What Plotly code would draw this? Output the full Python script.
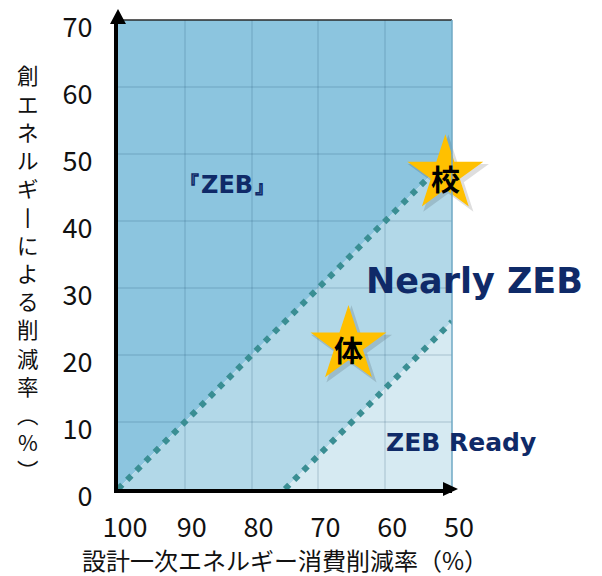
import plotly.graph_objects as go

# ---- data ----
x_ticks = [100, 90, 80, 70, 60, 50]
y_ticks = [0, 10, 20, 30, 40, 50, 60, 70]
x_range = [100, 50]
y_range = [0, 70]

zeb_line_x = [100, 50]      # boundary of 『ZEB』
zeb_line_y = [0, 50]
ready_line_x = [75, 50]     # boundary of ZEB Ready
ready_line_y = [0, 25]

star_x = [51, 65.5]
star_y = [47, 21.5]
star_labels = ["校", "体"]

region_labels = ["『ZEB』", "Nearly ZEB", "ZEB Ready"]
region_label_x = [83.7, 46.6, 48.6]
region_label_y = [45.4, 31.1, 6.9]
region_label_size = [24, 35, 25]

x_title = "設計一次エネルギー消費削減率（%）"
y_title_chars = ["創", "エ", "ネ", "ル", "ギ", "丨", "に", "よ", "る", "削", "減", "率", "︵", "%", "︶"]

# ---- colours ----
dark_fill = "#8CC5DF"
mid_fill = "#B2D8E8"
light_fill = "#D6EAF2"
dot_color = "#3A8E93"
navy = "#0F2A68"
star_color = "#FFC000"

# ---- geometry (figure pixels; page body adds an 8px offset) ----
OFF = 8
W, H = 602 - OFF, 576 - OFF
plot_left, plot_w = 118 - OFF, 334
plot_top, plot_h = 20 - OFF, 469

def xpaper(v):
    return (x_range[0] - v) / (x_range[0] - x_range[1])

def ypaper(v):
    return (v - y_range[0]) / (y_range[1] - y_range[0])

def px_to_paper_x(px):
    return (px - OFF - plot_left) / plot_w

def py_to_paper_y(py):
    return (plot_top + plot_h - (py - OFF)) / plot_h

fig = go.Figure()

xa, xb = x_range
ya, yb = y_range
def path(pts):
    return "M " + " L ".join(f"{px},{py}" for px, py in pts) + " Z"

dark_pts = [(zeb_line_x[0], zeb_line_y[0]), (zeb_line_x[1], zeb_line_y[1]), (xb, yb), (xa, yb)]
mid_pts = [(zeb_line_x[0], zeb_line_y[0]), (ready_line_x[0], ready_line_y[0]),
           (ready_line_x[1], ready_line_y[1]), (zeb_line_x[1], zeb_line_y[1])]
light_pts = [(ready_line_x[0], ready_line_y[0]), (xb, ya), (ready_line_x[1], ready_line_y[1])]

shapes = []
for pts, col in [(dark_pts, dark_fill), (mid_pts, mid_fill), (light_pts, light_fill)]:
    shapes.append(dict(type="path", path=path(pts), xref="x", yref="y",
                       fillcolor=col, line=dict(width=0), layer="below"))

# top and right borders
shapes.append(dict(type="line", xref="paper", yref="paper", x0=0, x1=1, y0=1, y1=1,
                   line=dict(color="#2a2a2a", width=1.5), layer="above"))
shapes.append(dict(type="line", xref="paper", yref="paper", x0=1, x1=1, y0=0, y1=1,
                   line=dict(color="#6FA8C4", width=1.5), layer="above"))

# arrowheads (paper-referenced so they are not clipped)
shapes.append(dict(type="path", xref="paper", yref="paper", xsizemode="pixel", ysizemode="pixel",
                   xanchor=0, yanchor=1, path="M -8,-4 L 8,-4 L 0,11 Z",
                   fillcolor="black", line=dict(width=0), layer="above"))
shapes.append(dict(type="path", xref="paper", yref="paper", xsizemode="pixel", ysizemode="pixel",
                   xanchor=1, yanchor=0, path="M -9,7 L -9,-7 L 6,0 Z",
                   fillcolor="black", line=dict(width=0), layer="above"))

# dotted boundary lines
for lx, ly in [(zeb_line_x, zeb_line_y), (ready_line_x, ready_line_y)]:
    fig.add_trace(go.Scatter(x=lx, y=ly, mode="lines",
                             line=dict(color=dot_color, width=6, dash="6px,7px"),
                             hoverinfo="skip", showlegend=False, cliponaxis=False))

# star shadows
fig.add_trace(go.Scatter(x=[v - 0.45 for v in star_x], y=[v - 0.45 for v in star_y], mode="markers",
                         marker=dict(symbol="star", size=61, color="rgba(0,0,0,0.13)", line=dict(width=0)),
                         hoverinfo="skip", showlegend=False, cliponaxis=False))
# stars
fig.add_trace(go.Scatter(x=star_x, y=star_y, mode="markers",
                         marker=dict(symbol="star", size=57, color=star_color, line=dict(width=0)),
                         hoverinfo="skip", showlegend=False, cliponaxis=False))

annotations = []
for sx, sy, s in zip(star_x, star_y, star_labels):
    annotations.append(dict(x=xpaper(sx), y=ypaper(sy), xref="paper", yref="paper",
                            xanchor="center", yanchor="middle",
                            text=f"<b>{s}</b>", showarrow=False, yshift=-4,
                            font=dict(family="Noto Sans CJK JP", size=29, color="black")))

for t, lx, ly, sz in zip(region_labels, region_label_x, region_label_y, region_label_size):
    annotations.append(dict(x=xpaper(lx), y=ypaper(ly), xref="paper", yref="paper",
                            xanchor="center", yanchor="middle",
                            text=f"<b>{t}</b>", showarrow=False,
                            font=dict(family="DejaVu Sans", size=sz, color=navy)))

# vertical y-axis title, one character per line
for i, ch in enumerate(y_title_chars):
    annotations.append(dict(x=px_to_paper_x(28), y=py_to_paper_y(75 + 28.2 * i),
                            xref="paper", yref="paper", text=ch, showarrow=False,
                            xanchor="center", yanchor="middle", borderpad=0,
                            font=dict(family="Noto Sans CJK JP", size=21.5, color="#111")))

# x-axis title
annotations.append(dict(x=0.5, y=py_to_paper_y(559), xref="paper", yref="paper",
                        text=x_title, showarrow=False, xanchor="center", yanchor="middle",
                        font=dict(family="Noto Sans CJK JP", size=24, color="#111")))

fig.update_layout(
    width=W, height=H,
    margin=dict(l=plot_left, r=W - plot_left - plot_w, t=plot_top, b=H - plot_top - plot_h),
    paper_bgcolor="white", plot_bgcolor="white",
    showlegend=False,
    shapes=shapes, annotations=annotations,
    font=dict(family="Noto Sans CJK JP", color="#111"),
    xaxis=dict(range=[x_range[0] + 1e-6, x_range[1] - 1e-6], tickvals=x_ticks,
               ticktext=[str(v) for v in x_ticks], automargin=False,
               showgrid=True, gridcolor="rgba(30,80,110,0.13)", gridwidth=2,
               zeroline=False, showline=True, linecolor="black", linewidth=4,
               ticks="", ticklabelstandoff=12, ticklabelshift=-7, ticklabeloverflow="allow",
               tickfont=dict(size=27, color="#111")),
    yaxis=dict(range=[y_range[0] - 1e-6, y_range[1] + 1e-6], tickvals=y_ticks,
               ticktext=[str(v) for v in y_ticks], automargin=False,
               showgrid=True, gridcolor="rgba(30,80,110,0.13)", gridwidth=2,
               zeroline=False, showline=True, linecolor="black", linewidth=4,
               ticks="", ticklabelstandoff=16, ticklabelshift=8, ticklabeloverflow="allow",
               tickfont=dict(size=27, color="#111")),
)

fig.write_html("out.html")
